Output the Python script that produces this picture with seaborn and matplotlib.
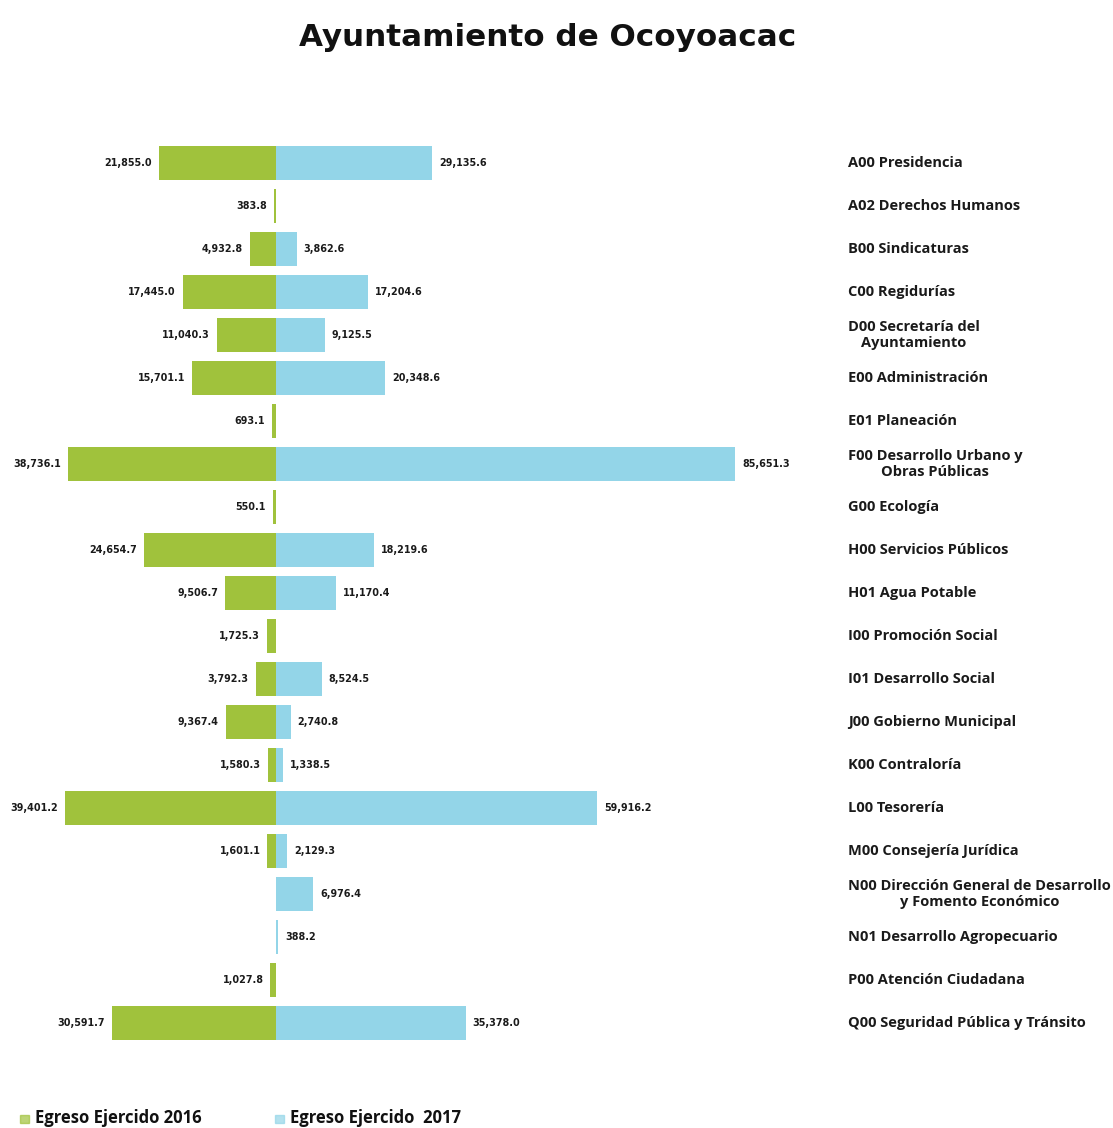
import numpy as np
import pandas as pd
import matplotlib
matplotlib.use("Agg")
import matplotlib.pyplot as plt
import seaborn as sns

categories = [
    "A00 Presidencia", "A02 Derechos Humanos", "B00 Sindicaturas", "C00 Regidurías",
    "D00 Secretaría del\nAyuntamiento", "E00 Administración", "E01 Planeación",
    "F00 Desarrollo Urbano y\nObras Públicas", "G00 Ecología", "H00 Servicios Públicos",
    "H01 Agua Potable", "I00 Promoción Social", "I01 Desarrollo Social",
    "J00 Gobierno Municipal", "K00 Contraloría", "L00 Tesorería",
    "M00 Consejería Jurídica", "N00 Dirección General de Desarrollo\ny Fomento Económico",
    "N01 Desarrollo Agropecuario", "P00 Atención Ciudadana",
    "Q00 Seguridad Pública y Tránsito",
]
egreso_2016 = [21855.0, 383.8, 4932.8, 17445.0, 11040.3, 15701.1, 693.1, 38736.1, 550.1,
               24654.7, 9506.7, 1725.3, 3792.3, 9367.4, 1580.3, 39401.2, 1601.1, None,
               None, 1027.8, 30591.7]
egreso_2017 = [29135.6, None, 3862.6, 17204.6, 9125.5, 20348.6, None, 85651.3, None,
               18219.6, 11170.4, None, 8524.5, 2740.8, 1338.5, 59916.2, 2129.3, 6976.4,
               388.2, None, 35378.0]
series_labels = ["Egreso Ejercido 2016", "Egreso Ejercido  2017"]

GREEN = "#a0c23c"
BLUE = "#93d5e8"

df = pd.DataFrame({"cat": categories, "v16": egreso_2016, "v17": egreso_2017})
df["left"] = -df["v16"].fillna(0)
df["right"] = df["v17"].fillna(0)

sns.set_theme(style="white")
plt.rcParams["font.family"] = ["DejaVu Sans"]

W, H = 1113, 1128
fig = plt.figure(figsize=(W / 100, H / 100), dpi=100)
ax_left_px, ax_right_px = 10, 800
top_px, bot_px = 141.5, 1044.5
ax = fig.add_axes([ax_left_px / W, 1 - bot_px / H, (ax_right_px - ax_left_px) / W,
                   (bot_px - top_px) / H])

sns.barplot(data=df, x="left", y="cat", color=GREEN, width=0.81, linewidth=0,
            saturation=1, ax=ax, orient="h")
sns.barplot(data=df, x="right", y="cat", color=BLUE, width=0.81, linewidth=0,
            saturation=1, ax=ax, orient="h")

center_px = 276
scale = 459 / 85651.3
ax.set_xlim(-(center_px - ax_left_px) / scale, (ax_right_px - center_px) / scale)
ax.set_ylim(len(categories) - 0.5, -0.5)
ax.axis("off")

off = 7 / scale
for i, (a, b) in enumerate(zip(egreso_2016, egreso_2017)):
    if a is not None:
        ax.text(-a - off, i, f"{a:,.1f}", ha="right", va="center", fontsize=6.9,
                fontweight="bold", color="#1a1a1a")
    if b is not None:
        ax.text(b + off, i, f"{b:,.1f}", ha="left", va="center", fontsize=6.9,
                fontweight="bold", color="#1a1a1a")
    ax.text((848 - ax_left_px) / (ax_right_px - ax_left_px), i, categories[i],
            transform=ax.get_yaxis_transform(), ha="left", va="center",
            multialignment="center", fontsize=10.5, fontweight="bold",
            family=["Open Sans", "DejaVu Sans"], color="#1a1a1a", linespacing=1.2)

fig.text(548 / W, 1 - 37 / H, "Ayuntamiento de Ocoyoacac", ha="center", va="center",
         fontsize=22.3, fontweight="bold", color="#111111")

# legend
for xpx, col, lab in [(20, GREEN, series_labels[0]), (275, BLUE, series_labels[1])]:
    fig.patches.append(plt.Rectangle((xpx / W, 1 - 1123 / H), 9 / W, 8 / H,
                                     transform=fig.transFigure, color=col, alpha=0.7))
    fig.text((xpx + 15) / W, 1 - 1118 / H, lab, ha="left", va="center", fontsize=12,
             fontweight="bold", family=["Open Sans", "DejaVu Sans"], color="#111111")

fig.savefig("out.png", dpi=100, facecolor="white")
